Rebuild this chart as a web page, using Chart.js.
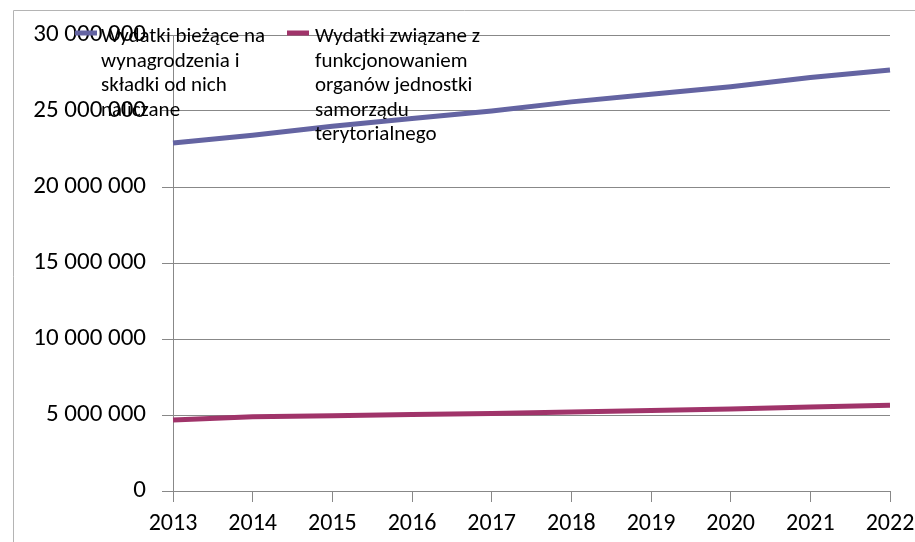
<!DOCTYPE html>
<html>
<head>
<meta charset="utf-8">
<script src="https://cdn.jsdelivr.net/npm/chart.js@4.4.1/dist/chart.umd.min.js"></script>
<style>
  html, body { margin: 0; padding: 0; background: #ffffff; }
  #wrap { position: relative; width: 915px; height: 542px; }
</style>
</head>
<body>
<div id="wrap"><canvas id="c" width="915" height="542"></canvas></div>
<script>
// ---- data ----
const years = ['2013','2014','2015','2016','2017','2018','2019','2020','2021','2022'];
const wynagrodzenia = [22900000, 23400000, 24000000, 24500000, 25000000, 25600000, 26100000, 26600000, 27200000, 27700000];
const funkcjonowanie = [4670000, 4890000, 4950000, 5040000, 5100000, 5200000, 5300000, 5390000, 5530000, 5640000];
const seriesNames = ['Wydatki bieżące na wynagrodzenia i składki od nich naliczane',
                     'Wydatki związane z funkcjonowaniem organów jednostki samorządu terytorialnego'];
const legendLines1 = ['Wydatki bieżące na', 'wynagrodzenia i', 'składki od nich', 'naliczane'];
const legendLines2 = ['Wydatki związane z', 'funkcjonowaniem', 'organów jednostki', 'samorządu', 'terytorialnego'];
const yTicks = [0, 5000000, 10000000, 15000000, 20000000, 25000000, 30000000];

const FONT = 'Carlito, Lato, "Liberation Sans", sans-serif';
const colors = ['#6464A2', '#A0346A'];

function fmt(v) {
  return String(Math.round(v)).replace(/\B(?=(\d{3})+(?!\d))/g, ' ');
}

const frame = {
  id: 'frame',
  beforeDraw(chart) {
    const ctx = chart.ctx;
    ctx.save();
    ctx.strokeStyle = '#b4b4b4';
    ctx.lineWidth = 1;
    ctx.beginPath();
    ctx.moveTo(13.5, 542);
    ctx.lineTo(13.5, 10.5);
    ctx.lineTo(915, 10.5);
    ctx.stroke();
    ctx.restore();
  }
};

const customLegend = {
  id: 'customLegend',
  afterDraw(chart) {
    const ctx = chart.ctx;
    const items = [
      { lines: legendLines1, sx: 75, tx: 101, color: chart.data.datasets[0].borderColor },
      { lines: legendLines2, sx: 287, tx: 315, color: chart.data.datasets[1].borderColor }
    ];
    ctx.save();
    items.forEach(it => {
      ctx.strokeStyle = it.color;
      ctx.lineWidth = 5;
      ctx.beginPath();
      ctx.moveTo(it.sx, 33);
      ctx.lineTo(it.sx + 22, 33);
      ctx.stroke();
      ctx.fillStyle = '#000';
      ctx.font = '21px ' + FONT;
      ctx.textBaseline = 'middle';
      ctx.textAlign = 'left';
      it.lines.forEach((l, i) => ctx.fillText(l, it.tx, 37 + i * 24.5));
    });
    ctx.restore();
  }
};

new Chart(document.getElementById('c'), {
  type: 'line',
  data: {
    labels: years,
    datasets: [
      { label: seriesNames[0], data: wynagrodzenia, borderColor: colors[0], backgroundColor: colors[0],
        borderWidth: 5, pointRadius: 0, tension: 0, fill: false },
      { label: seriesNames[1], data: funkcjonowanie, borderColor: colors[1], backgroundColor: colors[1],
        borderWidth: 5, pointRadius: 0, tension: 0, fill: false }
    ]
  },
  options: {
    responsive: false,
    animation: false,
    devicePixelRatio: 1,
    layout: { padding: { top: 35, right: 25, left: 0, bottom: 0 } },
    plugins: { legend: { display: false }, tooltip: { enabled: false }, title: { display: false } },
    scales: {
      x: {
        type: 'category',
        offset: false,
        grid: { display: true, drawOnChartArea: false, drawTicks: true, tickLength: 11, color: '#888888' },
        border: { display: true, color: '#888888' },
        ticks: { color: '#000', font: { family: FONT, size: 24 }, padding: 8, maxRotation: 0, autoSkip: false },
        afterFit(s) { s.height = 51; s.paddingLeft = 0; s.paddingRight = 0; }
      },
      y: {
        min: 0, max: 30000000,
        afterBuildTicks(s) { s.ticks = yTicks.map(v => ({ value: v })); },
        grid: { color: '#888888', drawTicks: true, tickLength: 11 },
        border: { display: true, color: '#888888' },
        ticks: { color: '#000', font: { family: FONT, size: 25 }, padding: 16, callback: v => fmt(v) },
        afterFit(s) { s.width = 173; s.paddingTop = 0; s.paddingBottom = 0; }
      }
    }
  },
  plugins: [frame, customLegend]
});
</script>
</body>
</html>
